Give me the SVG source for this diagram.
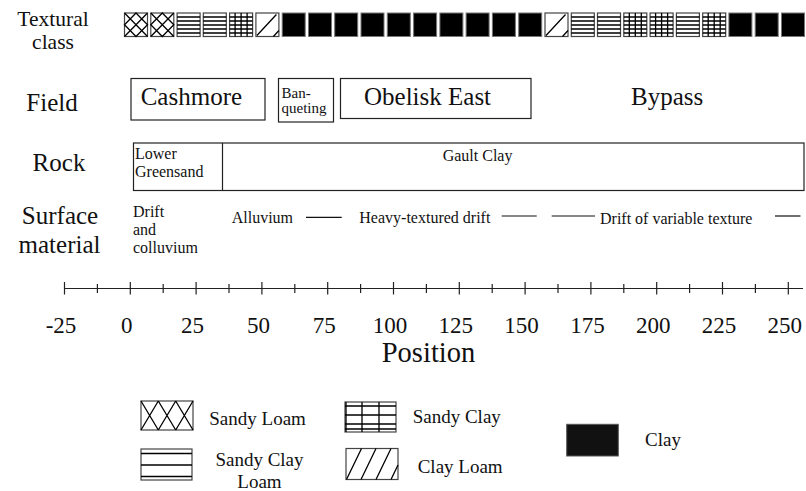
<svg xmlns="http://www.w3.org/2000/svg" xmlns:xlink="http://www.w3.org/1999/xlink" width="806" height="491" viewBox="0 0 806 491" font-family="'Liberation Serif', 'Times New Roman', Tinos, 'DejaVu Serif', serif">
<style>
text { font-family: "Liberation Serif", "Times New Roman", Tinos, "DejaVu Serif", serif; fill: #111; }
.row { font-size: 25px; }
.row2 { font-size: 21.5px; }
.fld { font-size: 25px; }
.sm { font-size: 16px; }
.xs { font-size: 15px; }
.tick { font-size: 23px; text-anchor: middle; }
.leg { font-size: 19px; }
.box { fill: #fff; stroke: #222; stroke-width: 1.2; }
.pb { fill: #fff; stroke: #444; stroke-width: 1.2; }
.ln { stroke: #000; stroke-width: 1.3; fill: none; }
.ax { stroke: #222; stroke-width: 1.2; fill: none; }
.dash { stroke: #111; stroke-width: 1.2; }
</style>
<defs>
  <g id="sl">
    <rect class="pb" x="0.5" y="0.5" width="23" height="23.5"/>
    <path class="ln" d="M0.5 0.5L23.5 24M23.5 0.5L0.5 24M12 0.5L23.5 12.25L12 24L0.5 12.25Z"/>
  </g>
  <g id="scl">
    <rect class="pb" x="0.5" y="0.5" width="23" height="23.5"/>
    <path class="ln" d="M0.5 4.5H23.5M0.5 8.5H23.5M0.5 12.5H23.5M0.5 16.5H23.5M0.5 20.5H23.5"/>
  </g>
  <g id="sc">
    <rect class="pb" x="0.5" y="0.5" width="23" height="23.5"/>
    <path class="ln" d="M0.5 4.5H23.5M0.5 8.5H23.5M0.5 12.5H23.5M0.5 16.5H23.5M0.5 20.5H23.5M6 0.5V24M12 0.5V24M18 0.5V24"/>
  </g>
  <g id="cl">
    <rect class="pb" x="0.5" y="0.5" width="23" height="23.5"/>
    <path class="ln" d="M1.5 23L21 2M18 24L23.5 18"/>
  </g>
  <g id="c">
    <rect x="0.5" y="0.5" width="23" height="23.5" fill="#000" stroke="#777" stroke-width="1"/>
  </g>
</defs>

<g id="row-labels">
  <text class="row2" x="53" y="25.6" text-anchor="middle">Textural</text>
  <text class="row2" x="53" y="49.4" text-anchor="middle">class</text>
  <text class="row" x="52" y="110.5" text-anchor="middle">Field</text>
  <text class="row" x="59" y="170.7" text-anchor="middle">Rock</text>
  <text class="row" x="60" y="224" text-anchor="middle">Surface</text>
  <text class="row" x="59.5" y="253.3" text-anchor="middle">material</text>
</g>

<g id="textural-class">
  <use xlink:href="#sl" x="124" y="12.5"/>
  <use xlink:href="#sl" x="150.3" y="12.5"/>
  <use xlink:href="#scl" x="176.6" y="12.5"/>
  <use xlink:href="#scl" x="202.8" y="12.5"/>
  <use xlink:href="#sc" x="229.1" y="12.5"/>
  <use xlink:href="#cl" x="255.4" y="12.5"/>
  <use xlink:href="#c" x="281.7" y="12.5"/>
  <use xlink:href="#c" x="308" y="12.5"/>
  <use xlink:href="#c" x="334.2" y="12.5"/>
  <use xlink:href="#c" x="360.5" y="12.5"/>
  <use xlink:href="#c" x="386.8" y="12.5"/>
  <use xlink:href="#c" x="413.1" y="12.5"/>
  <use xlink:href="#c" x="439.4" y="12.5"/>
  <use xlink:href="#c" x="465.6" y="12.5"/>
  <use xlink:href="#c" x="491.9" y="12.5"/>
  <use xlink:href="#c" x="518.2" y="12.5"/>
  <use xlink:href="#cl" x="544.5" y="12.5"/>
  <use xlink:href="#scl" x="570.8" y="12.5"/>
  <use xlink:href="#scl" x="597" y="12.5"/>
  <use xlink:href="#sc" x="623.3" y="12.5"/>
  <use xlink:href="#sc" x="649.6" y="12.5"/>
  <use xlink:href="#scl" x="675.9" y="12.5"/>
  <use xlink:href="#sc" x="702.2" y="12.5"/>
  <use xlink:href="#c" x="728.4" y="12.5"/>
  <use xlink:href="#c" x="754.7" y="12.5"/>
  <use xlink:href="#c" x="781" y="12.5"/>
</g>

<g id="field-cashmore">
  <rect class="box" x="131" y="78.5" width="134" height="41.5"/>
  <text class="fld" x="140.7" y="105">Cashmore</text>
</g>
<g id="field-banqueting">
  <rect class="box" x="278.5" y="78.5" width="55" height="43.5"/>
  <text class="xs" x="281.5" y="97.7">Ban-</text>
  <text class="xs" x="281.5" y="112.7">queting</text>
</g>
<g id="field-obelisk">
  <rect class="box" x="340.5" y="78.5" width="190.5" height="40"/>
  <text class="fld" x="364" y="105">Obelisk East</text>
</g>
<g id="field-bypass">
  <text class="fld" x="631" y="105">Bypass</text>
</g>

<g id="rock">
  <rect class="box" x="133.5" y="143" width="670.5" height="47.5"/>
  <line class="ax" x1="222.5" y1="143" x2="222.5" y2="190.5"/>
  <text class="sm" x="135" y="159.3">Lower</text>
  <text class="sm" x="135" y="177.3">Greensand</text>
  <text class="sm" x="442.7" y="160.7">Gault Clay</text>
</g>

<g id="surface">
  <text class="sm" x="133" y="216.7">Drift</text>
  <text class="sm" x="133" y="235">and</text>
  <text class="sm" x="133" y="252.7">colluvium</text>
  <text class="sm" x="231.7" y="222.7">Alluvium</text>
  <text class="sm" x="359.3" y="223">Heavy-textured drift</text>
  <text class="sm" x="600" y="224">Drift of variable texture</text>
</g>
<g id="connectors">
  <line class="dash" x1="306" y1="217.3" x2="341.7" y2="217.3"/>
  <line class="dash" x1="501.7" y1="216" x2="536.7" y2="216"/>
  <line class="dash" x1="551.7" y1="216" x2="595" y2="216"/>
  <line class="dash" x1="775" y1="216" x2="800.5" y2="216"/>
</g>

<g id="axis">
  <line class="ax" x1="64" y1="288.5" x2="803" y2="288.5"/>
  <path class="ax" d="M64.5 282V294.5M130.3 282V294.5M196.1 282V294.5M261.9 282V294.5M327.7 282V294.5M393.5 282V294.5M459.3 282V294.5M525.1 282V294.5M590.9 282V294.5M656.7 282V294.5M722.5 282V294.5M788.3 282V294.5"/>
  <path class="ax" d="M97.4 284V293M163.2 284V293M229 284V293M294.8 284V293M360.6 284V293M426.4 284V293M492.2 284V293M558 284V293M623.8 284V293M689.6 284V293M755.4 284V293"/>
  <text class="tick" x="61" y="333">-25</text>
  <text class="tick" x="126.8" y="333">0</text>
  <text class="tick" x="192.6" y="333">25</text>
  <text class="tick" x="258.4" y="333">50</text>
  <text class="tick" x="324.2" y="333">75</text>
  <text class="tick" x="390" y="333">100</text>
  <text class="tick" x="455.8" y="333">125</text>
  <text class="tick" x="521.6" y="333">150</text>
  <text class="tick" x="587.4" y="333">175</text>
  <text class="tick" x="653.2" y="333">200</text>
  <text class="tick" x="719" y="333">225</text>
  <text class="tick" x="784.8" y="333">250</text>
  <text x="428.5" y="362" font-size="28.5" text-anchor="middle">Position</text>
</g>

<g id="legend-sandy-loam">
  <rect class="pb" x="141" y="401" width="52" height="29"/>
  <path class="ln" stroke-width="1.5" d="M141 401L158.3 430M158.3 401L141 430M158.3 401L175.7 430M175.7 401L158.3 430M175.7 401L193 430M193 401L175.7 430"/>
  <text class="leg" x="209.3" y="425">Sandy Loam</text>
</g>
<g id="legend-sandy-clay-loam">
  <rect class="pb" x="141" y="449" width="51" height="31"/>
  <line class="ln" x1="141" y1="453.5" x2="192" y2="453.5" stroke-width="2"/>
  <line class="ln" x1="141" y1="465" x2="192" y2="465" stroke-width="1.8"/>
  <line class="ln" x1="141" y1="476.5" x2="192" y2="476.5" stroke-width="3"/>
  <text class="leg" x="259.5" y="466" text-anchor="middle">Sandy Clay</text>
  <text class="leg" x="259.5" y="488.3" text-anchor="middle">Loam</text>
</g>
<g id="legend-sandy-clay">
  <rect class="pb" x="345" y="402" width="51" height="30"/>
  <path class="ln" stroke-width="1.5" d="M345 406H396M345 415H396M345 424H396M345 429H396M362 402V432M379 402V432M346 402V432"/>
  <text class="leg" x="412.7" y="423.3">Sandy Clay</text>
</g>
<g id="legend-clay-loam">
  <rect class="pb" x="346" y="448.5" width="52" height="31"/>
  <path class="ln" stroke-width="1.6" d="M346.5 479.5L361.5 448.5M361 479.5L376 448.5M376 479.5L391 448.5M391 479.5L398 465"/>
  <text class="leg" x="417.7" y="473.3">Clay Loam</text>
</g>
<g id="legend-clay">
  <rect x="566.7" y="424.3" width="51.6" height="31.7" fill="#111" stroke="#555" stroke-width="1"/>
  <text class="leg" x="645" y="446">Clay</text>
</g>
</svg>
